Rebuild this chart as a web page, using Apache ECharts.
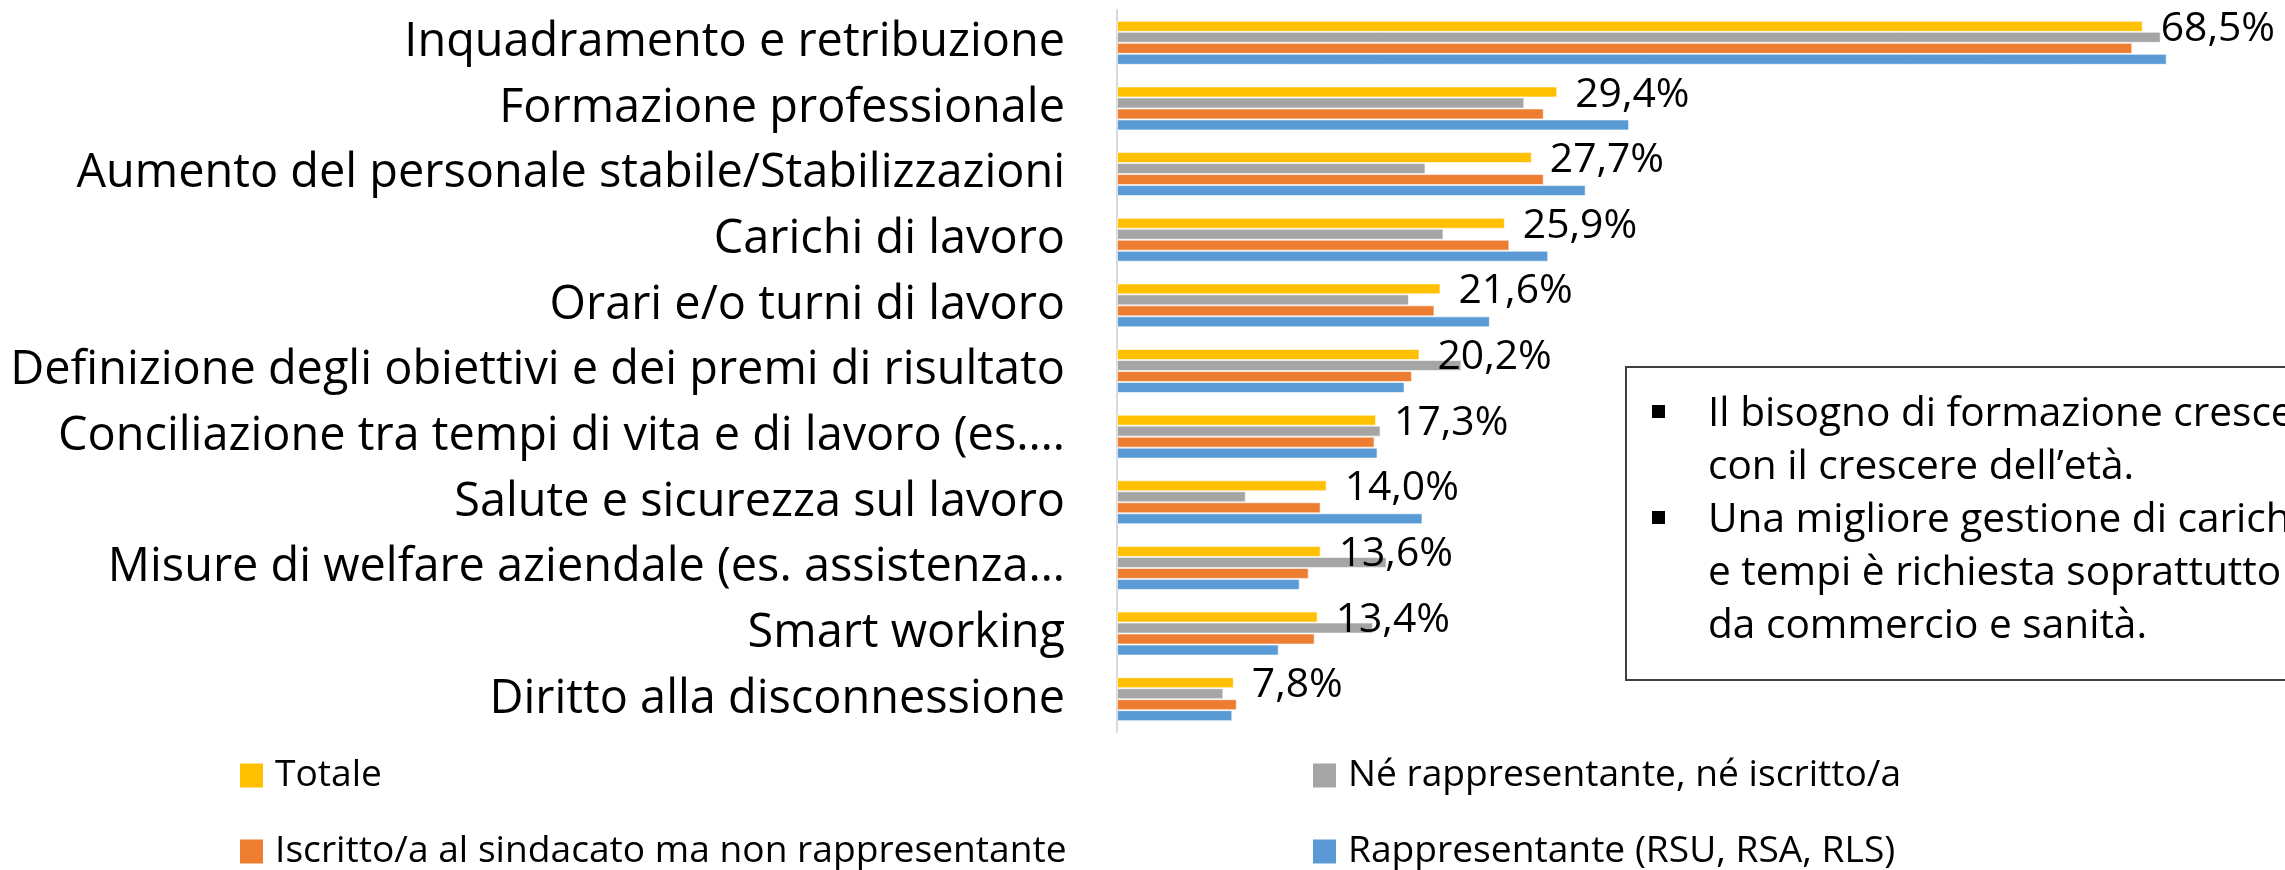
<!DOCTYPE html>
<html>
<head>
<meta charset="utf-8">
<script src="https://cdn.jsdelivr.net/npm/echarts/dist/echarts.min.js"></script>
<style>
  html, body { margin: 0; padding: 0; background: #ffffff; }
  #chart { width: 2285px; height: 870px; }
</style>
</head>
<body>
<div id="chart"></div>
<script>
// ---------------- DATA ----------------
const categories = [
  'Inquadramento e retribuzione',
  'Formazione professionale',
  'Aumento del personale stabile/Stabilizzazioni',
  'Carichi di lavoro',
  'Orari e/o turni di lavoro',
  'Definizione degli obiettivi e dei premi di risultato',
  'Conciliazione tra tempi di vita e di lavoro (es.…',
  'Salute e sicurezza sul lavoro',
  'Misure di welfare aziendale (es. assistenza…',
  'Smart working',
  'Diritto alla disconnessione'
];
const seriesNames = [
  'Totale',
  'Né rappresentante, né iscritto/a',
  'Iscritto/a al sindacato ma non rappresentante',
  'Rappresentante (RSU, RSA, RLS)'
];
const totale    = [68.5, 29.4, 27.7, 25.9, 21.6, 20.2, 17.3, 14.0, 13.6, 13.4, 7.8];
const neRapp    = [69.7, 27.2, 20.6, 21.8, 19.5, 23.0, 17.6,  8.6, 18.0, 17.1, 7.1];
const iscritto  = [67.8, 28.5, 28.5, 26.2, 21.2, 19.7, 17.2, 13.6, 12.8, 13.2, 8.0];
const rappr     = [70.1, 34.2, 31.3, 28.8, 24.9, 19.2, 17.4, 20.4, 12.2, 10.8, 7.7];
const noteLines = [
  'Il bisogno di formazione cresce',
  'con il crescere dell’età.',
  'Una migliore gestione di carichi',
  'e tempi è richiesta soprattutto',
  'da commercio e sanità.'
];

// ---------------- STYLE ----------------
const FONT = 'Open Sans';
const colors = ['#FFC000', '#A5A5A5', '#ED7D31', '#5B9BD5'];
const ctx = document.createElement('canvas').getContext('2d');
function fit(text, target) {
  ctx.font = '100px "' + FONT + '"';
  return 100 * target / ctx.measureText(text).width;
}
const catSize = fit('Definizione degli obiettivi e dei premi di risultato', 1055);
const valSize = fit('7,8%', 91);
const legSize = fit('Iscritto/a al sindacato ma non rappresentante', 792);
const boxSize = fit('Il bisogno di formazion', 432);

const fmt = v => v.toFixed(1).replace('.', ',') + '%';

const seriesData = [totale, neRapp, iscritto, rappr];
const series = seriesData.map((d, i) => ({
  name: seriesNames[i],
  type: 'bar',
  data: d,
  barGap: '0%',
  barCategoryGap: '33%',
  itemStyle: { color: colors[i], borderColor: 'rgba(255,255,255,0.6)', borderWidth: 1 },
  label: i === 0 ? {
    show: true,
    position: 'right',
    distance: 18,
    offset: [0, 3],
    formatter: p => fmt(p.value),
    fontFamily: FONT,
    fontSize: valSize,
    color: '#000'
  } : { show: false },
  emphasis: { disabled: true }
}));

const legendPos = [[240, 757], [1313, 757], [240, 833], [1313, 833]];
const legends = seriesNames.map((n, i) => ({
  data: [n],
  left: legendPos[i][0], top: legendPos[i][1],
  padding: 0,
  itemWidth: 23, itemHeight: 24,
  icon: 'rect',
  itemStyle: { borderWidth: 0 },
  textStyle: { fontFamily: FONT, fontSize: legSize, color: '#000', lineHeight: 36, padding: [0, 0, 0, 7] }
}));

const chart = echarts.init(document.getElementById('chart'), null, { renderer: 'canvas' });
const option = {
  backgroundColor: '#ffffff',
  animation: false,
  textStyle: { fontFamily: FONT },
  grid: { left: 1117, top: 10, height: 722, right: 0, containLabel: false, outerBoundsMode: 'none' },
  xAxis: {
    type: 'value', min: 0, max: 78, show: false
  },
  yAxis: {
    type: 'category',
    data: categories,
    inverse: true,
    axisLine: { show: true, lineStyle: { color: '#D9D9D9', width: 2 } },
    axisTick: { show: false },
    splitLine: { show: false },
    axisLabel: { margin: 52, fontFamily: FONT, fontSize: catSize, color: '#000' }
  },
  legend: legends,
  graphic: [
    {
      type: 'rect', left: 1625, top: 366, z: 10,
      shape: { width: 800, height: 313 },
      style: { fill: '#ffffff', stroke: '#404040', lineWidth: 2 }
    },
    {
      type: 'rect', left: 1652, top: 405, z: 11,
      shape: { width: 13, height: 13 },
      style: { fill: '#000' }
    },
    {
      type: 'rect', left: 1652, top: 511, z: 11,
      shape: { width: 13, height: 13 },
      style: { fill: '#000' }
    },
    {
      type: 'text', left: 1708, top: 388, z: 11,
      style: {
        text: noteLines.join('\n'),
        fontFamily: FONT, fontSize: boxSize, lineHeight: 53, fill: '#000'
      }
    }
  ],
  series: series
};
chart.setOption(option);
</script>
</body>
</html>
